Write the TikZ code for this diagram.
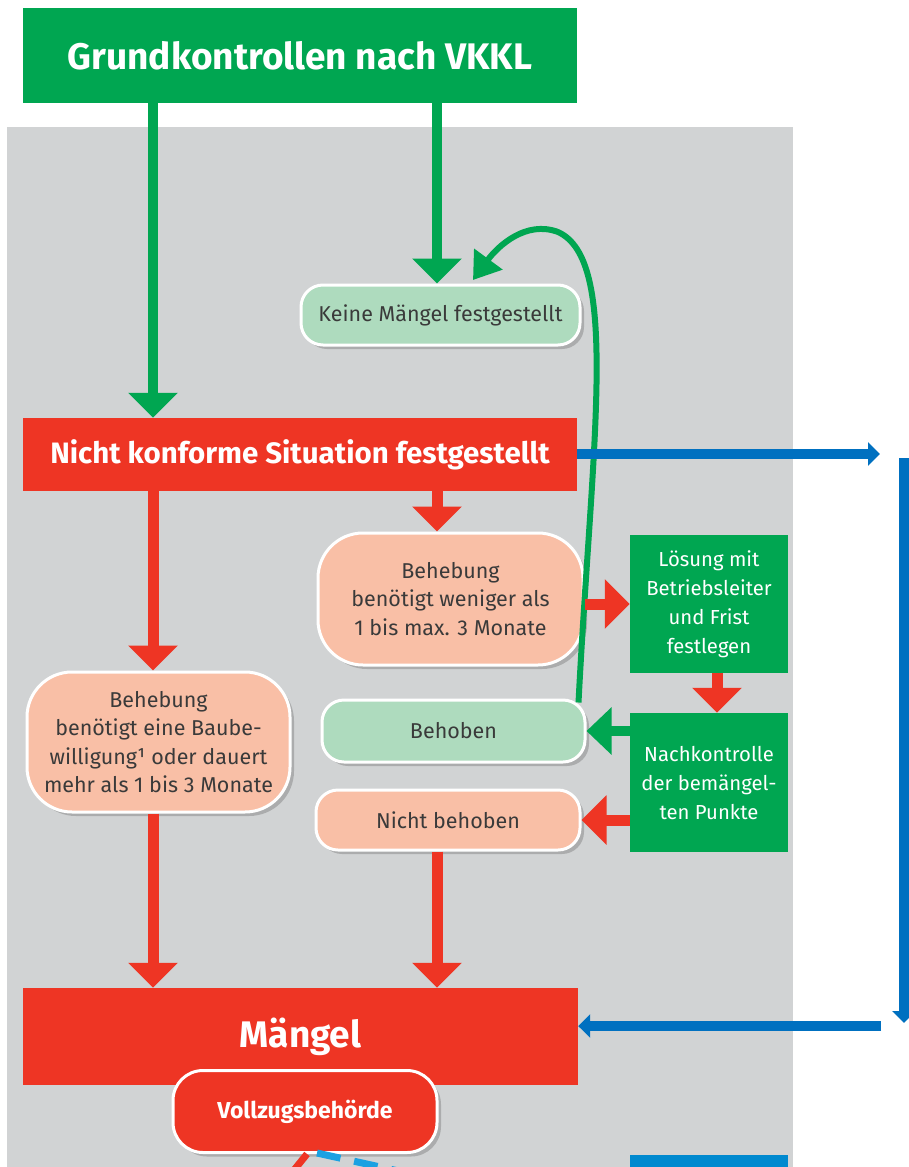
\documentclass[tikz,border=0pt]{standalone}
\usepackage{fontspec}
\setmainfont{Fira Sans}
\usetikzlibrary{arrows.meta,shadows}
\definecolor{cgreen}{HTML}{00A651}
\definecolor{cred}{HTML}{EE3524}
\definecolor{clgreen}{HTML}{AEDBBE}
\definecolor{csalmon}{HTML}{F9BFA6}
\definecolor{cgray}{HTML}{D1D3D4}
\definecolor{cblue}{HTML}{0070C0}
\definecolor{ccyan}{HTML}{1BA1E2}
\definecolor{cbluebox}{HTML}{0089CF}
\definecolor{ctext}{HTML}{3A3A3A}
\tikzset{
  sqbox/.style={rectangle, inner sep=0pt, text=white, align=center},
  rbox/.style={rectangle, rounded corners=#1, draw=white, line width=3pt, inner sep=0pt, align=center, text=ctext,
     drop shadow={shadow xshift=4pt, shadow yshift=-4pt, opacity=0.35, fill=black!60}},
  body/.style={font=\fontsize{21.5}{28.5}\selectfont},
  fatg/.style={draw=cgreen, line width=10pt, -{Triangle[width=48pt,length=25pt]}},
  fatr/.style={draw=cred, line width=11pt, -{Triangle[width=48pt,length=25pt]}},
  barrow/.style={draw=cblue, line width=10pt, -{Triangle[width=23pt,length=12pt]}},
}
\begin{document}
\begin{tikzpicture}[x=1pt,y=-1pt]
\useasboundingbox (0,0) rectangle (909,1167);
\fill[white] (0,0) rectangle (909,1167);
\fill[cgray] (7,127) rectangle (793,1167);

\coordinate (xL) at (153,0);
\coordinate (xM) at (437,0);
\coordinate (xR) at (717,0);

% square boxes
\node[sqbox, fill=cgreen, minimum width=554pt, minimum height=95pt,
      font=\fontsize{37}{40}\selectfont\bfseries] (title) at (300,55.5) {Grundkontrollen nach VKKL};
\node[sqbox, fill=cred, minimum width=554pt, minimum height=73pt,
      font=\fontsize{29.5}{32}\selectfont\bfseries] (nk) at (300,454.5) {Nicht konforme Situation festgestellt};
\node[sqbox, fill=cred, minimum width=555pt, minimum height=97pt,
      font=\fontsize{37}{40}\selectfont\bfseries] (maengel) at (300.5,1036.5) {Mängel};
\node[sqbox, fill=cgreen, minimum width=158pt, minimum height=138pt,
      font=\fontsize{20.3}{29}\selectfont] (loes) at (709,604) {Lösung mit\\Betriebsleiter\\und Frist\\festlegen};
\node[sqbox, fill=cgreen, minimum width=158pt, minimum height=139pt,
      font=\fontsize{20.3}{29}\selectfont] (nach) at (709,782.5) {Nachkontrolle\\der bemängel-\\ten Punkte};

% rounded boxes
\node[rbox=22pt, fill=clgreen, minimum width=279pt, minimum height=60pt, body] (keine) at (440.5,315) {Keine Mängel festgestellt};
\node[rbox=45pt, fill=csalmon, minimum width=265pt, minimum height=132pt, body] (beh2) at (450.5,599) {Behebung\\benötigt weniger als\\1 bis max. 3 Monate};
\node[rbox=22pt, fill=clgreen, minimum width=263pt, minimum height=62pt, body] (behoben) at (453.5,731) {Behoben};
\node[rbox=22pt, fill=csalmon, minimum width=264pt, minimum height=60pt, body] (nichtbeh) at (448,820) {Nicht behoben};
\node[rbox=45pt, fill=csalmon, minimum width=263pt, minimum height=140pt, body] (beh1) at (158.5,742) {Behebung\\benötigt eine Baube-\\willigung¹ oder dauert\\mehr als 1 bis 3 Monate};

% green arrows from title
\draw[fatg] (title.south -| xL) -- (nk.north -| xL);
\draw[fatg] (title.south -| xM) -- (keine.north -| xM);

% curved green feedback arrow
\draw[draw=cgreen, line width=6pt, -{Triangle[width=34pt,length=26pt]}]
  ([xshift=-8pt,yshift=-4pt]behoben.north east) .. controls (592,440) and (620,260) .. (558,232)
  .. controls (526,220) and (498,246) .. (473,280);

% red arrows
\draw[fatr] (nk.south -| xL) -- (beh1.north -| xL);
\draw[fatr] (nk.south -| xM) -- (beh2.north -| xM);
\draw[fatr] (beh2.east |- loes.west) -- (loes.west);
\draw[fatr] (loes.south -| xR) -- (nach.north -| xR);
\draw[draw=cgreen, line width=10pt, -{Triangle[width=46pt,length=25pt]}] (nach.west |- behoben.east) -- (behoben.east);
\draw[fatr] (nach.west |- nichtbeh.east) -- (nichtbeh.east);
\draw[fatr] (beh1.south -| xL) -- (maengel.north -| xL);
\draw[fatr] (nichtbeh.south -| xM) -- (maengel.north -| xM);

% blue loop on the right
\coordinate (bA) at (880,454);
\coordinate (bT) at (904,458);
\coordinate (bB) at (904,1023);
\coordinate (bR) at (881,1026);
\draw[barrow] (nk.east |- bA) -- (bA);
\draw[barrow] (bT) -- (bB);
\draw[barrow] (bR) -- (maengel.east |- bR);

% bottom partial elements
\begin{scope}
\clip (0,0) rectangle (909,1167);
\coordinate (rEnd) at (290,1175);
\coordinate (cEnd) at (430,1178);
\node[rbox=30pt, fill=cred, text=white, minimum width=264pt, minimum height=82pt,
      font=\fontsize{23}{25}\selectfont\bfseries] (vollzug) at (305,1111.5) {Vollzugsbehörde};
\draw[draw=cred, line width=7pt] ([xshift=2pt]vollzug.south) -- (rEnd);
\draw[draw=ccyan, line width=7pt, dash pattern=on 24pt off 14pt] ([xshift=12pt,yshift=1pt]vollzug.south) -- (cEnd);
\fill[cbluebox] (630,1155) rectangle (788,1170);
\end{scope}
\end{tikzpicture}
\end{document}
